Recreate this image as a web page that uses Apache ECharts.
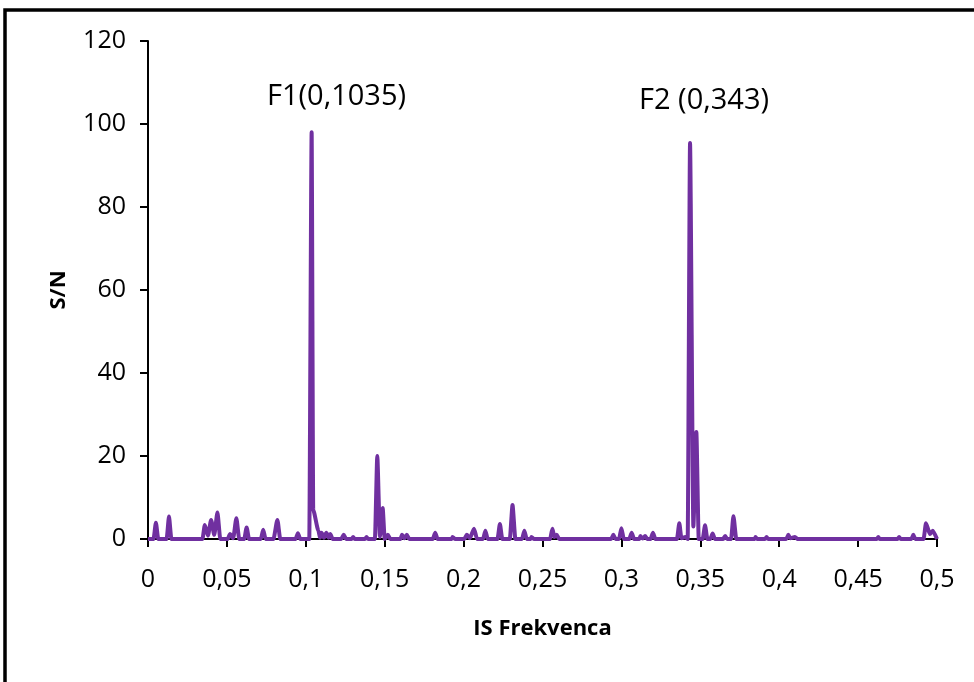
<!DOCTYPE html>
<html>
<head>
<meta charset="utf-8">
<script src="https://cdn.jsdelivr.net/npm/echarts@6/dist/echarts.min.js"></script>
<style>html,body{margin:0;padding:0;background:#fff;}#chart{width:974px;height:682px;}</style>
</head>
<body>
<div id="chart"></div>
<script>
// IS frequency values
const freq = [0,0.0035,0.005,0.0065,0.0118,0.0133,0.0148,0.0345,0.036,0.038,0.040,0.042,0.044,0.0458,0.0505,0.052,0.054,0.056,0.0578,0.061,0.0625,0.064,0.0715,0.073,0.0745,0.0795,0.082,0.0838,0.0935,0.095,0.0965,0.1022,0.1037,0.1047,0.108,0.109,0.110,0.1115,0.113,0.1145,0.1155,0.117,0.1225,0.124,0.1255,0.129,0.130,0.131,0.1375,0.1385,0.1395,0.1438,0.1453,0.147,0.1487,0.150,0.152,0.1535,0.160,0.161,0.1625,0.164,0.1655,0.1805,0.182,0.1835,0.1925,0.193,0.1945,0.2005,0.202,0.204,0.2066,0.2085,0.2123,0.2138,0.2153,0.2215,0.223,0.2245,0.2293,0.231,0.2328,0.237,0.2385,0.240,0.2425,0.243,0.2445,0.2548,0.2563,0.2575,0.259,0.2605,0.2935,0.2949,0.2963,0.2985,0.300,0.3015,0.305,0.3065,0.308,0.3115,0.312,0.3135,0.315,0.3165,0.3185,0.320,0.3215,0.3352,0.3367,0.338,0.3405,0.342,0.3435,0.3456,0.3475,0.349,0.3515,0.353,0.3545,0.3563,0.3578,0.3593,0.3645,0.3657,0.367,0.3695,0.371,0.3728,0.3845,0.385,0.386,0.391,0.392,0.393,0.4045,0.4058,0.407,0.41,0.4115,0.462,0.4628,0.4636,0.475,0.476,0.477,0.4838,0.485,0.4862,0.4915,0.493,0.4955,0.4973,0.5];
// S/N values
const snr = [0,0,3.9,0,0,5.4,0,0,3.4,0.8,4.6,1.0,6.4,0,0,1.2,0.2,5.0,0,0,2.8,0,0,2.2,0,0,4.6,0,0,1.4,0,0,98,7,2,0.3,1.5,0.3,1.5,0.3,1.2,0,0,1.0,0,0,0.5,0,0,0.5,0,0,20,0.5,7.5,0,1.0,0,0,1.0,0.2,1.0,0,0,1.5,0,0,0.5,0,0,1.0,0.2,2.5,0,0,2.0,0,0,3.6,0,0,8.2,0,0,2.0,0,0,0.5,0,0,2.5,0.5,1.0,0,0,1.0,0,0,2.6,0,0,1.5,0,0,0.7,0.1,0.7,0,0,1.5,0,0,3.8,0.2,0.5,0,95.4,3,25.8,0,0,3.3,0,0,1.3,0,0,0.7,0,0,5.5,0,0,0.5,0,0,0.5,0,0,1.0,0.2,0.5,0,0,0.5,0,0,0.5,0,0,1.0,0,0,3.8,1.2,2.0,0];
const yTicks = [0,20,40,60,80,100,120];
const xTickLabels = ['0','0,05','0,1','0,15','0,2','0,25','0,3','0,35','0,4','0,45','0,5'];
const peakLabels = ['F1(0,1035)', 'F2 (0,343)'];

const FONT = "'Open Sans', 'Noto Sans', sans-serif";
const chart = echarts.init(document.getElementById('chart'), null, {renderer: 'canvas'});
const data = freq.map((f, i) => [f, snr[i]]);
chart.setOption({
  animation: false,
  backgroundColor: '#fff',
  grid: {left: 148, right: 37, top: 41, bottom: 143, containLabel: false},
  xAxis: {
    type: 'value', min: 0, max: 0.5, interval: 0.05,
    name: 'IS Frekvenca', nameLocation: 'middle', nameGap: 79,
    nameTextStyle: {fontFamily: FONT, fontSize: 22, fontWeight: 'bold', color: '#000'},
    axisLine: {show: true, lineStyle: {color: '#000', width: 2}},
    axisTick: {show: true, inside: false, length: 8, lineStyle: {color: '#000', width: 2}},
    axisLabel: {fontFamily: FONT, fontSize: 25, color: '#000', margin: 28,
      formatter: v => xTickLabels[Math.round(v / 0.05)]},
    splitLine: {show: false}
  },
  yAxis: {
    type: 'value', min: 0, max: 120, interval: 20,
    name: 'S/N', nameLocation: 'middle', nameGap: 78, nameRotate: 90,
    nameTextStyle: {fontFamily: FONT, fontSize: 22, fontWeight: 'bold', color: '#000'},
    axisLine: {show: true, lineStyle: {color: '#000', width: 2}},
    axisTick: {show: true, inside: false, length: 8, lineStyle: {color: '#000', width: 2}},
    axisLabel: {fontFamily: FONT, fontSize: 25, color: '#000', margin: 22,
      formatter: v => String(yTicks[Math.round(v / 20)])},
    splitLine: {show: false}
  },
  series: [{
    type: 'line', data: data, showSymbol: false, symbol: 'none',
    smooth: 0.2, smoothMonotone: 'x',
    lineStyle: {color: '#7030A0', width: 4},
    z: 5
  }],
  graphic: [
    {type: 'rect', shape: {x: 5, y: 10, width: 1000, height: 700}, style: {fill: 'none', stroke: '#000', lineWidth: 3.5}, silent: true},
    {type: 'text', left: 267, top: 82, style: {text: peakLabels[0], font: "29px " + FONT, fill: '#000'}},
    {type: 'text', left: 639, top: 86, style: {text: peakLabels[1], font: "29px " + FONT, fill: '#000'}}
  ]
});
</script>
</body>
</html>
